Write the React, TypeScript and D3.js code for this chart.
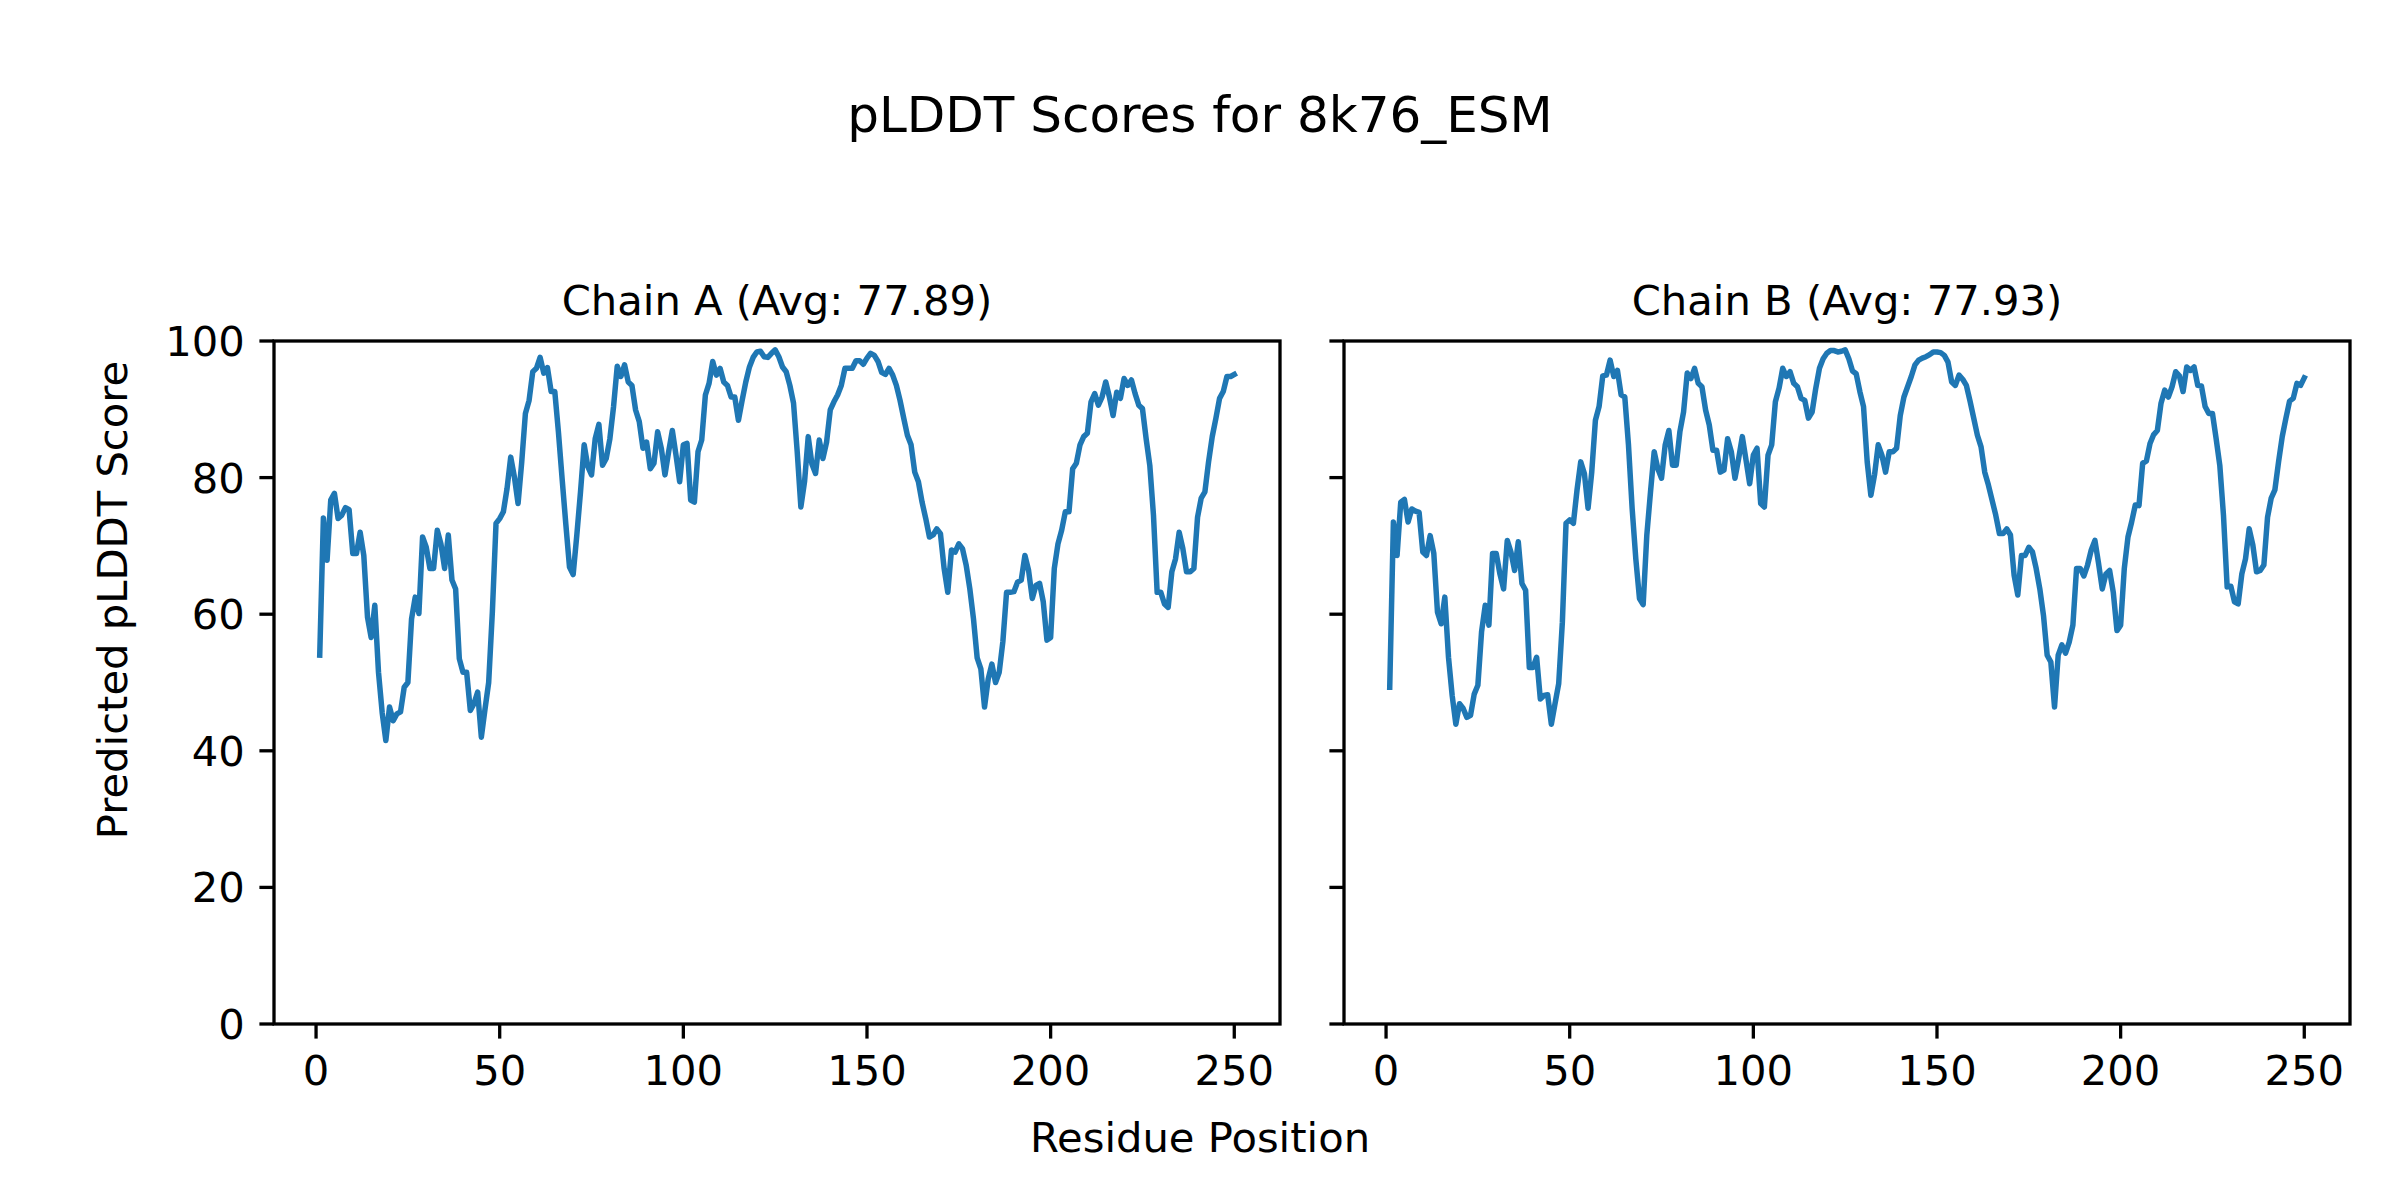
import React, { useRef, useEffect } from 'react';
import * as d3 from 'd3';

const residues: number[] = Array.from({ length: 250 }, (_, i) => i + 1);

const chainA: number[] = [
  54.0, 74.1, 67.9, 76.7, 77.7, 74.0, 74.5, 75.6, 75.3, 68.9,
  68.9, 72.0, 68.6, 59.6, 56.6, 61.3, 51.5, 45.6, 41.5, 46.4,
  44.4, 45.4, 45.7, 49.3, 50.0, 59.3, 62.5, 60.1, 71.3, 69.8,
  66.7, 66.7, 72.3, 70.3, 66.7, 71.6, 65.0, 63.7, 53.5, 51.5,
  51.5, 45.9, 46.9, 48.6, 42.0, 46.1, 50.0, 60.3, 73.3, 74.0,
  75.0, 78.4, 83.0, 80.1, 76.2, 82.3, 89.4, 91.3, 95.5, 96.0,
  97.6, 95.3, 96.1, 92.6, 92.6, 86.6, 79.8, 73.2, 66.9, 65.8,
  71.6, 77.9, 84.8, 81.6, 80.4, 85.7, 87.8, 81.8, 82.8, 85.7,
  90.4, 96.3, 94.8, 96.5, 94.0, 93.5, 89.9, 88.2, 84.3, 85.2,
  81.3, 82.1, 86.7, 84.3, 80.4, 83.8, 86.9, 83.3, 79.4, 84.8,
  85.0, 76.7, 76.4, 83.8, 85.5, 92.1, 93.8, 97.0, 95.0, 96.0,
  94.0, 93.5, 91.8, 91.8, 88.4, 91.3, 94.0, 96.2, 97.6, 98.4,
  98.5, 97.7, 97.6, 98.2, 98.7, 97.7, 96.2, 95.5, 93.5, 90.9,
  83.8, 75.7, 79.4, 86.0, 82.0, 80.6, 85.5, 82.8, 85.2, 89.9,
  91.1, 92.1, 93.5, 96.0, 96.0, 96.0, 97.1, 97.1, 96.6, 97.5,
  98.2, 97.9, 97.0, 95.4, 95.1, 96.0, 95.0, 93.5, 91.3, 88.7,
  86.2, 84.8, 80.8, 79.4, 76.4, 74.0, 71.3, 71.6, 72.5, 71.8,
  66.7, 63.2, 69.4, 69.1, 70.3, 69.6, 67.2, 63.7, 59.3, 53.6,
  52.0, 46.4, 50.5, 52.7, 50.0, 51.5, 56.0, 63.2, 63.2, 63.3,
  64.7, 65.0, 68.6, 66.4, 62.3, 64.2, 64.5, 61.8, 56.2, 56.6,
  66.7, 70.3, 72.3, 75.0, 75.0, 81.3, 82.1, 84.8, 86.0, 86.5,
  91.1, 92.3, 90.6, 91.8, 94.0, 91.8, 89.1, 92.5, 91.6, 94.5,
  93.5, 94.3, 92.3, 90.6, 90.1, 85.7, 81.8, 74.5, 63.2, 63.2,
  61.5, 61.0, 66.2, 68.1, 72.0, 69.6, 66.2, 66.2, 66.7, 74.2,
  77.0, 77.9, 82.3, 86.0, 88.7, 91.6, 92.6, 94.8, 94.8, 95.1,
];

const chainB: number[] = [
  49.3, 73.5, 68.6, 76.4, 76.8, 73.5, 75.4, 75.1, 74.9, 69.1,
  68.6, 71.5, 68.9, 60.3, 58.6, 62.5, 53.7, 48.1, 43.9, 46.9,
  46.2, 44.9, 45.2, 48.3, 49.6, 57.4, 61.3, 58.4, 68.9, 68.9,
  65.9, 63.7, 70.8, 69.1, 66.4, 70.6, 64.5, 63.5, 52.2, 52.2,
  53.7, 47.6, 48.1, 48.2, 43.9, 46.9, 49.8, 58.8, 73.3, 73.8,
  73.3, 78.2, 82.3, 80.6, 75.5, 80.8, 88.4, 90.4, 94.9, 95.0,
  97.2, 94.8, 95.7, 92.1, 91.8, 84.8, 75.5, 68.1, 62.3, 61.4,
  71.6, 77.9, 83.8, 81.3, 79.9, 84.8, 86.9, 81.8, 81.8, 86.7,
  89.6, 95.3, 94.5, 96.0, 93.8, 93.3, 89.9, 87.7, 84.0, 84.0,
  80.8, 81.1, 85.7, 83.8, 79.9, 82.8, 86.0, 82.6, 79.1, 83.3,
  84.3, 76.2, 75.7, 83.3, 84.8, 91.1, 93.1, 96.0, 94.8, 95.5,
  93.8, 93.3, 91.6, 91.3, 88.7, 89.6, 93.1, 96.0, 97.4, 98.2,
  98.6, 98.6, 98.4, 98.5, 98.7, 97.4, 95.6, 95.2, 92.6, 90.4,
  82.3, 77.4, 80.4, 84.8, 83.3, 80.8, 83.8, 83.8, 84.3, 89.1,
  91.8, 93.3, 94.8, 96.5, 97.2, 97.5, 97.7, 98.0, 98.4, 98.4,
  98.3, 97.9, 96.9, 94.0, 93.5, 95.0, 94.4, 93.5, 91.2, 88.7,
  86.2, 84.5, 80.8, 78.9, 76.7, 74.5, 71.8, 71.8, 72.5, 71.6,
  65.7, 62.8, 68.6, 68.6, 69.8, 69.1, 66.7, 63.7, 59.8, 54.0,
  53.0, 46.4, 54.0, 55.5, 54.3, 55.9, 58.4, 66.7, 66.7, 65.6,
  67.2, 69.4, 70.8, 67.4, 63.7, 65.9, 66.4, 63.2, 57.6, 58.4,
  66.7, 71.3, 73.5, 76.0, 75.9, 82.1, 82.4, 85.0, 86.3, 86.9,
  90.9, 92.8, 91.8, 93.3, 95.5, 94.9, 92.6, 96.2, 95.7, 96.2,
  93.5, 93.4, 90.4, 89.4, 89.4, 85.7, 81.8, 74.5, 64.0, 64.1,
  61.8, 61.5, 65.9, 68.1, 72.5, 70.1, 66.2, 66.4, 67.2, 74.2,
  77.0, 78.2, 82.3, 86.0, 88.7, 91.2, 91.6, 93.8, 93.5, 94.6,
];

const chainTitles: string[] = ['Chain A (Avg: 77.89)', 'Chain B (Avg: 77.93)'];
const xTicks: number[] = [0, 50, 100, 150, 200, 250];
const yTicks: number[] = [0, 20, 40, 60, 80, 100];

const App: React.FC = () => {
  const svgRef = useRef<SVGSVGElement>(null);

  useEffect(() => {
    document.body.style.margin = '0';
    const svg = d3.select(svgRef.current);
    svg.selectAll('*').remove();

    const W = 2400;
    const H = 1200;
    const font = 'DejaVu Sans, sans-serif';
    // figure is 8x4 in at 300 dpi: 10pt = 41.7px, 12pt = 50px
    const fs = 41.7;
    const top = 341;
    const plotH = 683;
    const plotW = 1006;
    const lefts = [274, 1344];
    const tickLen = 14.6;
    const tickPad = 14.6;

    svg.append('rect').attr('width', W).attr('height', H).attr('fill', '#fff');

    svg.append('text')
      .attr('x', 1200).attr('y', 132)
      .attr('text-anchor', 'middle')
      .attr('font-family', font).attr('font-size', 50)
      .text('pLDDT Scores for 8k76_ESM');

    const n = residues.length;
    const pad = (residues[n - 1] - residues[0]) * 0.05;
    const x = d3.scaleLinear()
      .domain([residues[0] - pad, residues[n - 1] + pad])
      .range([0, plotW]);
    const y = d3.scaleLinear().domain([0, 100]).range([plotH, 0]);

    [chainA, chainB].forEach((series, idx) => {
      const g = svg.append('g').attr('transform', `translate(${lefts[idx]},${top})`);

      const line = d3.line<number>()
        .x((_, i) => x(residues[i]))
        .y(d => y(d));

      g.append('path')
        .datum(series)
        .attr('fill', 'none')
        .attr('stroke', '#1f77b4')
        .attr('stroke-width', 5.5)
        .attr('stroke-linejoin', 'round')
        .attr('stroke-linecap', 'square')
        .attr('d', line);

      // spines
      g.append('rect')
        .attr('width', plotW).attr('height', plotH)
        .attr('fill', 'none').attr('stroke', '#000').attr('stroke-width', 3.3);

      // x ticks
      xTicks.forEach(t => {
        g.append('line')
          .attr('x1', x(t)).attr('x2', x(t))
          .attr('y1', plotH).attr('y2', plotH + tickLen)
          .attr('stroke', '#000').attr('stroke-width', 3.3);
        g.append('text')
          .attr('x', x(t)).attr('y', plotH + tickLen + tickPad + 31.5)
          .attr('text-anchor', 'middle')
          .attr('font-family', font).attr('font-size', fs)
          .text(t);
      });

      // y ticks (labels only on the shared left axis)
      yTicks.forEach(t => {
        g.append('line')
          .attr('x1', -tickLen).attr('x2', 0)
          .attr('y1', y(t)).attr('y2', y(t))
          .attr('stroke', '#000').attr('stroke-width', 3.3);
        if (idx === 0) {
          g.append('text')
            .attr('x', -tickLen - tickPad).attr('y', y(t))
            .attr('dy', '0.36em')
            .attr('text-anchor', 'end')
            .attr('font-family', font).attr('font-size', fs)
            .text(t);
        }
      });

      g.append('text')
        .attr('x', plotW / 2).attr('y', 315 - top)
        .attr('text-anchor', 'middle')
        .attr('font-family', font).attr('font-size', fs)
        .text(chainTitles[idx]);
    });

    svg.append('text')
      .attr('x', 1200).attr('y', 1152)
      .attr('text-anchor', 'middle')
      .attr('font-family', font).attr('font-size', fs)
      .text('Residue Position');

    svg.append('text')
      .attr('transform', 'translate(127,600) rotate(-90)')
      .attr('text-anchor', 'middle')
      .attr('font-family', font).attr('font-size', fs)
      .text('Predicted pLDDT Score');
  }, []);

  return <svg ref={svgRef} width={2400} height={1200} style={{ display: 'block' }} />;
};

export default App;
